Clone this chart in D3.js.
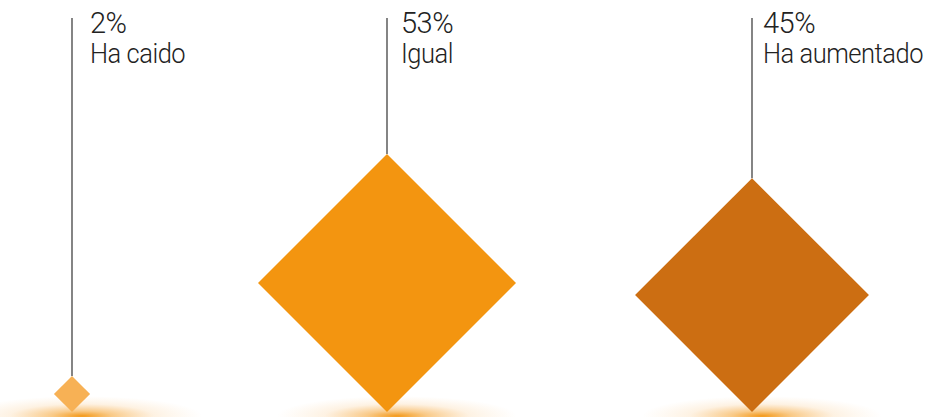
<!DOCTYPE html>
<html><head><meta charset="utf-8">
<script src="https://cdn.jsdelivr.net/npm/d3@7"></script>
<style>html,body{margin:0;padding:0;background:#fff;overflow:hidden}</style>
</head><body>
<svg id="c" width="938" height="417"></svg>
<script>
const categories = ["Ha caido", "Igual", "Ha aumentado"];
const values = [2, 53, 45];
const valueLabels = ["2%", "53%", "45%"];
const colors = ["#F7B155", "#F39510", "#CC6E12"];

const W = 938, H = 417, baseY = 412, lineTop = 18;
const svg = d3.select("#c");

// horizontal placement of each category (layout)
const x = d3.scaleOrdinal().domain(categories).range([72, 387, 752]);
const labelDx = d3.scaleOrdinal().domain(categories).range([18, 14, 11]);
// half-diagonal of each diamond
const r = d3.scalePow().exponent(0.6).domain([0, 53]).range([0, 129]);

const defs = svg.append("defs");
const grad = defs.append("radialGradient").attr("id", "glow");
grad.append("stop").attr("offset", "0%").attr("stop-color", "#F39510").attr("stop-opacity", 0.95);
grad.append("stop").attr("offset", "25%").attr("stop-color", "#F39510").attr("stop-opacity", 0.5);
grad.append("stop").attr("offset", "60%").attr("stop-color", "#F5A030").attr("stop-opacity", 0.14);
grad.append("stop").attr("offset", "100%").attr("stop-color", "#F7B055").attr("stop-opacity", 0);

const data = categories.map((c, i) => ({ c, v: values[i], lab: valueLabels[i], col: colors[i] }));

const g = svg.selectAll("g.item").data(data).join("g").attr("class", "item");

g.append("ellipse")
  .attr("cx", d => x(d.c) + 10)
  .attr("cy", baseY + 4)
  .attr("rx", 120)
  .attr("ry", 20)
  .attr("fill", "url(#glow)");

g.append("line")
  .attr("x1", d => x(d.c)).attr("x2", d => x(d.c))
  .attr("y1", lineTop)
  .attr("y2", d => baseY - 2 * r(d.v))
  .attr("stroke", "#333").attr("stroke-width", 1.2);

g.append("path")
  .attr("d", d => {
    const cx = x(d.c), h = r(d.v), cy = baseY - h;
    return `M${cx},${cy - h}L${cx + h},${cy}L${cx},${cy + h}L${cx - h},${cy}Z`;
  })
  .attr("fill", d => d.col);

const font = "Roboto, 'Open Sans', sans-serif";
g.append("text")
  .attr("x", d => x(d.c) + labelDx(d.c))
  .attr("y", 33)
  .attr("font-family", font).attr("font-weight", 300)
  .attr("font-size", 29).attr("letter-spacing", -0.5)
  .attr("fill", "#222")
  .text(d => d.lab);

g.append("text")
  .attr("font-family", font).attr("font-weight", 300)
  .attr("font-size", 28).attr("letter-spacing", -0.5)
  .attr("fill", "#222")
  .attr("transform", d => `translate(${x(d.c) + labelDx(d.c)},63) scale(0.91,1)`)
  .text(d => d.c);
</script>
</body></html>
